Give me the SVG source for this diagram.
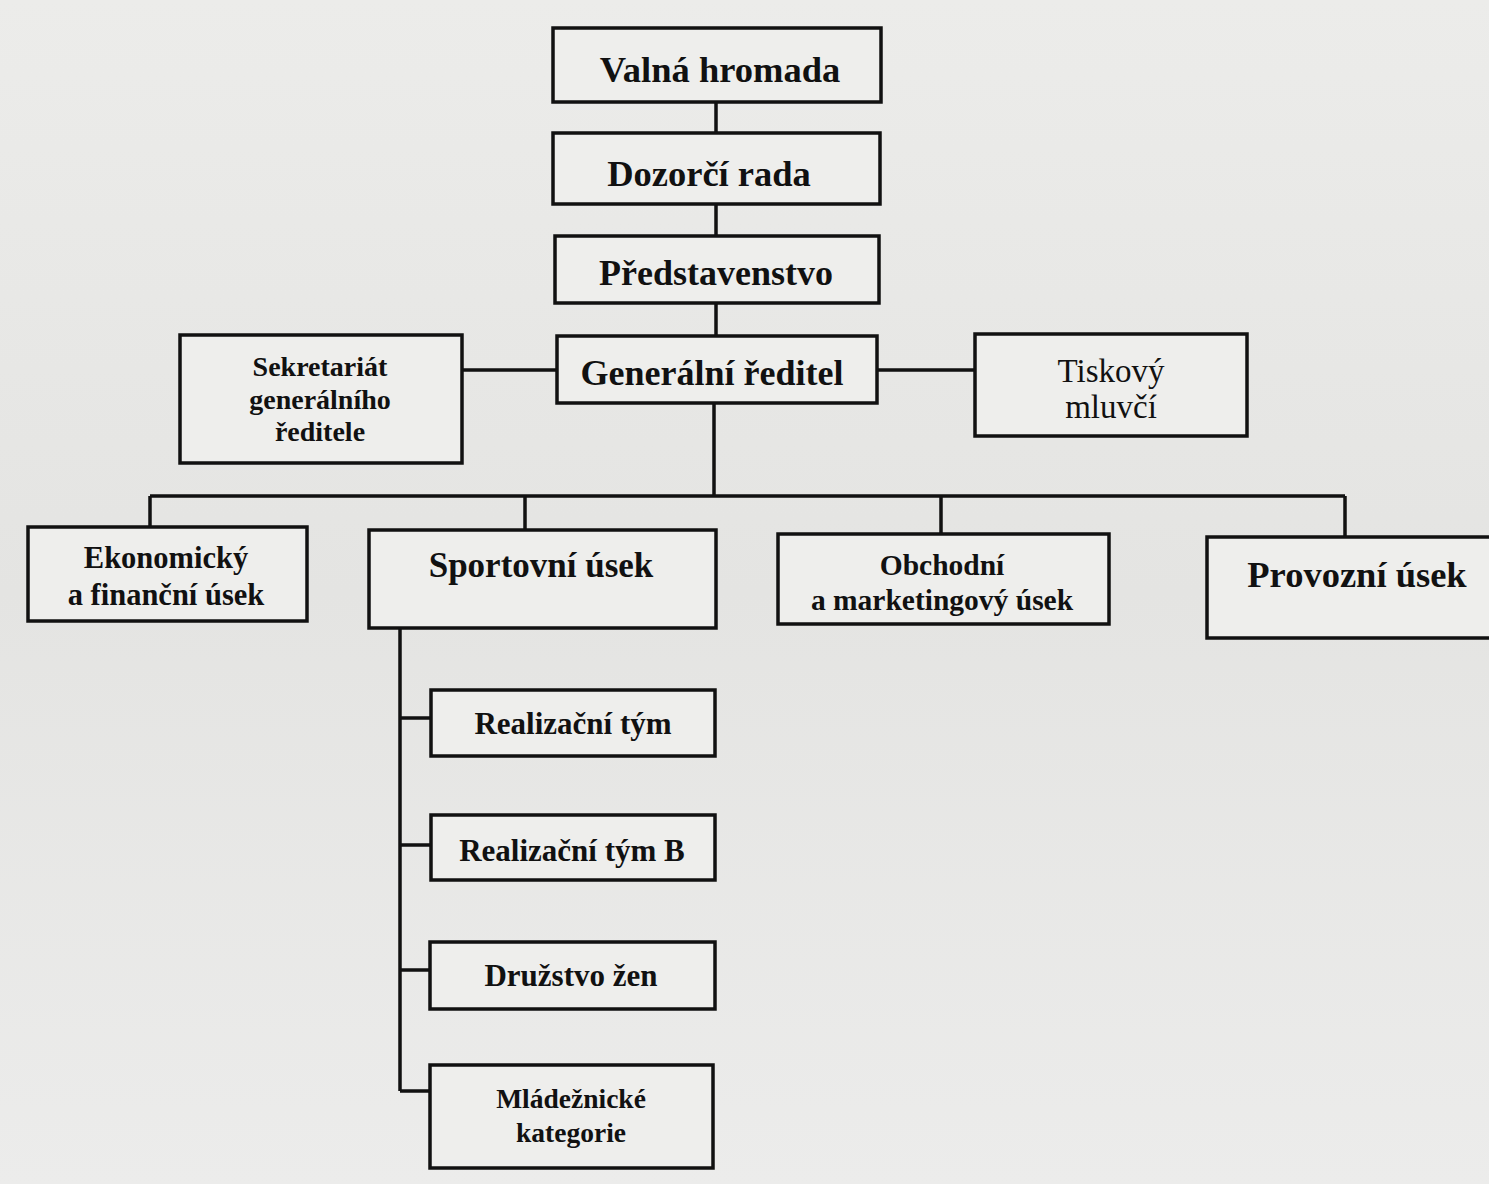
<svg xmlns="http://www.w3.org/2000/svg" width="1489" height="1184" viewBox="0 0 1489 1184">
  <defs>
    <linearGradient id="paper" x1="0" y1="0" x2="0" y2="1">
      <stop offset="0" stop-color="#ececea"/>
      <stop offset="0.5" stop-color="#e4e4e2"/>
      <stop offset="1" stop-color="#ececeb"/>
    </linearGradient>
  </defs>
  <style>
    .box { fill: #eeeeec; stroke: #111; stroke-width: 3.5; }
    .link { fill: none; stroke: #111; stroke-width: 3.5; }
    .t { font-family: "Liberation Serif", "Times New Roman", serif; font-weight: bold; fill: #111; text-anchor: middle; }
    .r { font-weight: normal; }
  </style>
  <rect width="1489" height="1184" fill="url(#paper)"/>

  <!-- tree lines -->
  <g id="connectors">
    <path class="link" d="M716 102 V133 M716 204 V236 M716 303 V336"/>
    <path class="link" d="M462 370 H557 M877 370 H975"/>
    <path class="link" d="M714 403 V496 M150 496 H1345 M150 496 V527 M525 496 V530 M941 496 V534 M1345 496 V537"/>
    <path class="link" d="M400 628 V1091 M400 718 H431 M400 845 H431 M400 970 H430 M400 1091 H430"/>
  </g>

  <g id="valna-hromada">
    <rect class="box" x="553" y="28" width="328" height="74"/>
    <text class="t" x="720" y="82" font-size="36.5">Valná hromada</text>
  </g>
  <g id="dozorci-rada">
    <rect class="box" x="553" y="133" width="327" height="71"/>
    <text class="t" x="709" y="186" font-size="36.5">Dozorčí rada</text>
  </g>
  <g id="predstavenstvo">
    <rect class="box" x="555" y="236" width="324" height="67"/>
    <text class="t" x="716" y="285" font-size="36">Představenstvo</text>
  </g>
  <g id="generalni-reditel">
    <rect class="box" x="557" y="336" width="320" height="67"/>
    <text class="t" x="712" y="385" font-size="36">Generální ředitel</text>
  </g>
  <g id="sekretariat">
    <rect class="box" x="180" y="335" width="282" height="128"/>
    <text class="t" x="320" y="376" font-size="28">Sekretariát</text>
    <text class="t" x="320" y="409" font-size="28">generálního</text>
    <text class="t" x="320" y="441" font-size="28">ředitele</text>
  </g>
  <g id="tiskovy-mluvci">
    <rect class="box" x="975" y="334" width="272" height="102"/>
    <text class="t r" x="1111" y="382" font-size="33">Tiskový</text>
    <text class="t r" x="1111" y="418" font-size="33">mluvčí</text>
  </g>

  <g id="ekonomicky-usek">
    <rect class="box" x="28" y="527" width="279" height="94"/>
    <text class="t" x="166" y="568" font-size="30.5">Ekonomický</text>
    <text class="t" x="166" y="605" font-size="30.5">a finanční úsek</text>
  </g>
  <g id="sportovni-usek">
    <rect class="box" x="369" y="530" width="347" height="98"/>
    <text class="t" x="541" y="577" font-size="35">Sportovní úsek</text>
  </g>
  <g id="obchodni-usek">
    <rect class="box" x="778" y="534" width="331" height="90"/>
    <text class="t" x="942" y="575" font-size="29.5">Obchodní</text>
    <text class="t" x="942" y="610" font-size="29.5">a marketingový úsek</text>
  </g>
  <g id="provozni-usek">
    <rect class="box" x="1207" y="537" width="290" height="101"/>
    <text class="t" x="1357" y="587" font-size="36.5">Provozní úsek</text>
  </g>

  <g id="realizacni-tym">
    <rect class="box" x="431" y="690" width="284" height="66"/>
    <text class="t" x="573" y="734" font-size="31">Realizační tým</text>
  </g>
  <g id="realizacni-tym-b">
    <rect class="box" x="431" y="815" width="284" height="65"/>
    <text class="t" x="572" y="861" font-size="31">Realizační tým B</text>
  </g>
  <g id="druzstvo-zen">
    <rect class="box" x="430" y="942" width="285" height="67"/>
    <text class="t" x="571" y="986" font-size="31">Družstvo žen</text>
  </g>
  <g id="mladeznicke-kategorie">
    <rect class="box" x="430" y="1065" width="283" height="103"/>
    <text class="t" x="571" y="1108" font-size="27.5">Mládežnické</text>
    <text class="t" x="571" y="1142" font-size="27.5">kategorie</text>
  </g>
</svg>
